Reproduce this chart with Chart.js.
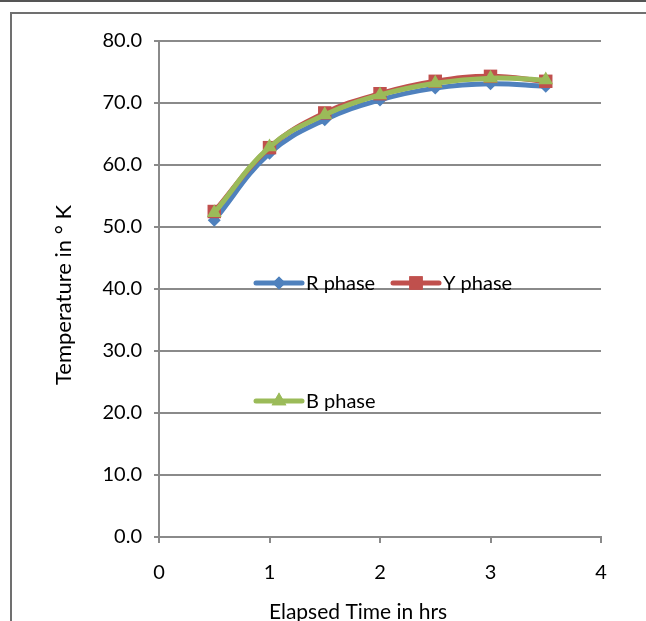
<!DOCTYPE html>
<html>
<head>
<meta charset="utf-8">
<script src="https://cdn.jsdelivr.net/npm/chart.js@4.4.1/dist/chart.umd.min.js"></script>
<style>
  html, body { margin: 0; padding: 0; background: #fff; overflow: hidden; }
  #wrap { position: relative; width: 646px; height: 621px; overflow: hidden; }
  #topRule { position: absolute; left: 0; top: 0; width: 646px; border-top: 2px solid #555; }
  #frame { position: absolute; left: 10px; top: 12px; width: 700px; height: 700px;
           border-left: 2px solid #707070; border-top: 2px solid #707070; }
  canvas { position: absolute; left: 0; top: 0; }
</style>
</head>
<body>
<div id="wrap">
  <div id="topRule"></div>
  <div id="frame"></div>
  <canvas id="chart" width="646" height="640"></canvas>
</div>
<script>
const hours = [0.5, 1, 1.5, 2, 2.5, 3, 3.5];
const rPhase = [51.1, 61.9, 67.3, 70.5, 72.4, 73.1, 72.7];
const yPhase = [52.5, 62.8, 68.4, 71.5, 73.5, 74.3, 73.5];
const bPhase = [52.3, 62.9, 68.1, 71.3, 73.2, 74.0, 73.7];
const xTicks = [0, 1, 2, 3, 4];
const yTicks = [0, 10, 20, 30, 40, 50, 60, 70, 80];
const xTitle = "Elapsed Time in hrs";
const yTitle = "Temperature in ° K";

const FONT = "Lato, 'Open Sans', sans-serif";
const colors = { r: "#4F81BD", y: "#C0504D", b: "#9BBB59" };

const toXY = (vals) => vals.map((v, i) => ({ x: hours[i], y: v }));

const datasets = [
  { label: "R phase", data: toXY(rPhase), borderColor: colors.r, backgroundColor: colors.r,
    pointStyle: "rectRot", pointRadius: 6.5, order: 3 },
  { label: "Y phase", data: toXY(yPhase), borderColor: colors.y, backgroundColor: colors.y,
    pointStyle: "rect", pointRadius: 9.5, order: 2 },
  { label: "B phase", data: toXY(bPhase), borderColor: colors.b, backgroundColor: colors.b,
    pointStyle: "triangle", pointRadius: 8.5, order: 1 }
].map(d => Object.assign(d, {
  borderWidth: 5,
  tension: 0.4,
  pointBorderWidth: 0,
  pointHoverRadius: d.pointRadius,
  fill: false
}));

// excel-style legend sitting inside the plot
const legendSpots = [
  { ds: 0, x: 256, y: 283 },
  { ds: 1, x: 393, y: 283 },
  { ds: 2, x: 256, y: 401 }
];

const insideLegend = {
  id: "insideLegend",
  afterDatasetsDraw(chart) {
    const ctx = chart.ctx;
    ctx.save();
    legendSpots.forEach(spot => {
      const ds = chart.data.datasets[spot.ds];
      ctx.strokeStyle = ds.borderColor;
      ctx.lineWidth = 5;
      ctx.lineCap = "round";
      ctx.beginPath();
      ctx.moveTo(spot.x, spot.y);
      ctx.lineTo(spot.x + 46, spot.y);
      ctx.stroke();
      ctx.fillStyle = ds.backgroundColor;
      Chart.helpers.drawPoint(ctx, {
        pointStyle: ds.pointStyle, radius: ds.pointRadius, rotation: 0, borderWidth: 0
      }, spot.x + 23, spot.y);
      ctx.fill();
      ctx.fillStyle = "#000";
      ctx.font = "20px " + FONT;
      ctx.textBaseline = "middle";
      ctx.textAlign = "left";
      ctx.fillText(ds.label, spot.x + 50, spot.y + 1);
    });
    ctx.restore();
  }
};

// axis titles sit a little off-centre in the original, so place them by hand
const axisTitles = {
  id: "axisTitles",
  afterDraw(chart) {
    const ctx = chart.ctx;
    ctx.save();
    ctx.fillStyle = "#000";
    ctx.textAlign = "center";
    ctx.font = "21px " + FONT;
    ctx.textBaseline = "alphabetic";
    ctx.fillText(xTitle, 358, 619);
    ctx.translate(64, 295);
    ctx.rotate(-Math.PI / 2);
    ctx.font = "22px " + FONT;
    ctx.textBaseline = "middle";
    ctx.fillText(yTitle, 0, 0);
    ctx.restore();
  }
};

new Chart(document.getElementById("chart"), {
  type: "line",
  data: { datasets },
  plugins: [insideLegend, axisTitles],
  options: {
    responsive: false,
    animation: false,
    devicePixelRatio: 1,
    layout: { padding: { left: 44, right: 45, top: 41, bottom: 0 } },
    plugins: { legend: { display: false }, tooltip: { enabled: false } },
    scales: {
      x: {
        type: "linear",
        min: 0,
        max: 4,
        afterFit: s => { s.height = 103; },
        afterBuildTicks: s => { s.ticks = xTicks.map(v => ({ value: v })); },
        grid: { drawOnChartArea: false, drawTicks: true, tickLength: 6, color: "#8a8a8a", lineWidth: 2 },
        border: { color: "#8a8a8a", width: 2 },
        ticks: { color: "#000", font: { family: FONT, size: 20 }, padding: 18, maxRotation: 0 }
      },
      y: {
        min: 0,
        max: 80,
        afterFit: s => { s.width = 115; },
        afterBuildTicks: s => { s.ticks = yTicks.map(v => ({ value: v })); },
        grid: { color: "#8a8a8a", lineWidth: 2, drawTicks: true, tickLength: 5 },
        border: { color: "#8a8a8a", width: 2 },
        ticks: { color: "#000", font: { family: FONT, size: 20 }, padding: 12,
                 callback: v => Number(v).toFixed(1) }
      }
    }
  }
});
</script>
</body>
</html>
